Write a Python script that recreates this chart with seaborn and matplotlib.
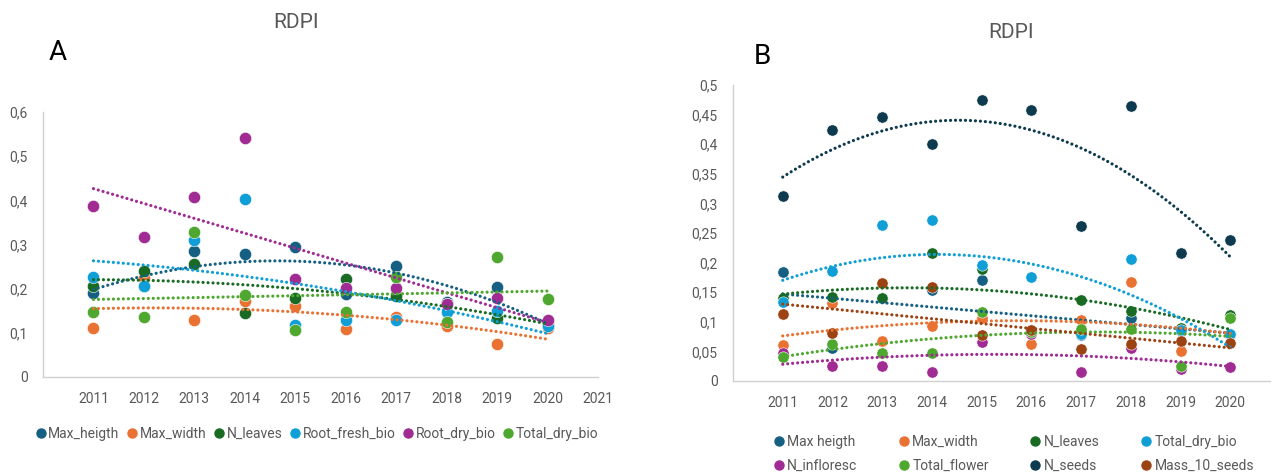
import numpy as np
import pandas as pd
import seaborn as sns
import matplotlib
matplotlib.use("Agg")
import matplotlib.pyplot as plt
from matplotlib.lines import Line2D
from matplotlib.ticker import FuncFormatter

# ---------------------------------------------------------------- data
years = [2011, 2012, 2013, 2014, 2015, 2016, 2017, 2018, 2019, 2020]

# Panel A
a_series = ["Max_heigth", "Max_width", "N_leaves", "Root_fresh_bio", "Root_dry_bio", "Total_dry_bio"]
a_max_heigth = [0.190, 0.205, 0.286, 0.278, 0.295, 0.188, 0.252, 0.169, 0.203, 0.120]
a_max_width = [0.110, 0.225, 0.130, 0.171, 0.160, 0.108, 0.136, 0.116, 0.074, 0.112]
a_n_leaves = [0.207, 0.239, 0.256, 0.144, 0.180, 0.222, 0.184, 0.165, 0.133, 0.118]
a_root_fresh_bio = [0.227, 0.205, 0.311, 0.404, 0.118, 0.130, 0.129, 0.148, 0.150, 0.115]
a_root_dry_bio = [0.388, 0.316, 0.408, 0.541, 0.222, 0.201, 0.202, 0.165, 0.178, 0.128]
a_total_dry_bio = [0.148, 0.135, 0.329, 0.186, 0.106, 0.148, 0.227, 0.125, 0.271, 0.176]
a_trend_order = [2, 2, 2, 2, 1, 1]

# Panel B
b_series = ["Max heigth", "Max_width", "N_leaves", "Total_dry_bio",
            "N_infloresc", "Total_flower", "N_seeds", "Mass_10_seeds"]
b_max_heigth = [0.184, 0.056, 0.140, 0.154, 0.171, 0.085, 0.077, 0.107, 0.085, 0.080]
b_max_width = [0.060, 0.132, 0.068, 0.093, 0.107, 0.062, 0.103, 0.168, 0.051, 0.078]
b_n_leaves = [0.141, 0.142, 0.141, 0.216, 0.189, 0.086, 0.137, 0.118, 0.089, 0.111]
b_total_dry_bio = [0.134, 0.185, 0.264, 0.272, 0.196, 0.176, 0.080, 0.206, 0.086, 0.079]
b_n_infloresc = [0.047, 0.025, 0.025, 0.015, 0.066, 0.080, 0.016, 0.056, 0.020, 0.024]
b_total_flower = [0.041, 0.062, 0.048, 0.048, 0.117, 0.082, 0.088, 0.088, 0.026, 0.107]
b_n_seeds = [0.313, 0.424, 0.446, 0.401, 0.474, 0.457, 0.262, 0.464, 0.217, 0.238]
b_mass_10_seeds = [0.113, 0.081, 0.166, 0.158, 0.077, 0.086, 0.054, 0.062, 0.068, 0.064]
b_trend_order = [1, 2, 2, 2, 2, 2, 2, 1]

a_ticks_y = [0, 0.1, 0.2, 0.3, 0.4, 0.5, 0.6]
a_ticks_x = [2011, 2012, 2013, 2014, 2015, 2016, 2017, 2018, 2019, 2020, 2021]
b_ticks_y = [0, 0.05, 0.1, 0.15, 0.2, 0.25, 0.3, 0.35, 0.4, 0.45, 0.5]
b_ticks_x = years

# ---------------------------------------------------------------- style
sns.set_theme(style="white")
plt.rcParams["font.family"] = ["Roboto", "DejaVu Sans"]

TEXT_GREY = "#595959"
AXIS_GREY = "#d0d0d0"

a_colors = dict(zip(a_series, ["#156082", "#E97132", "#196B24", "#0F9ED5", "#A02B93", "#4EA72E"]))
b_colors = dict(zip(b_series, ["#156082", "#E97132", "#196B24", "#0F9ED5",
                               "#A02B93", "#4EA72E", "#0D3A4E", "#9C4314"]))


def long_frame(names, columns):
    rows = []
    for name, vals in zip(names, columns):
        for yr, v in zip(years, vals):
            rows.append({"year": yr, "value": v, "series": name})
    return pd.DataFrame(rows)


df_a = long_frame(a_series, [a_max_heigth, a_max_width, a_n_leaves,
                             a_root_fresh_bio, a_root_dry_bio, a_total_dry_bio])
df_b = long_frame(b_series, [b_max_heigth, b_max_width, b_n_leaves, b_total_dry_bio,
                             b_n_infloresc, b_total_flower, b_n_seeds, b_mass_10_seeds])


def comma_fmt(v, _pos):
    return f"{round(v, 2):g}".replace(".", ",")


def draw_panel(ax, df, names, colors, orders, size):
    for name in names:
        sub = df[df["series"] == name]
        sns.scatterplot(data=sub, x="year", y="value", color=colors[name], s=size,
                        edgecolor="white", linewidth=0.4, legend=False, ax=ax, zorder=2)
    # dotted polynomial / linear trend lines fitted to each series
    for name, order in zip(names, orders):
        sub = df[df["series"] == name]
        sns.regplot(data=sub, x="year", y="value", order=order, ci=None, scatter=False,
                    truncate=True, color=colors[name], ax=ax,
                    line_kws=dict(linestyle=(0, (0.01, 1.55)), lw=2.3,
                                  dash_capstyle="round", zorder=3))
    ax.set_xlabel("")
    ax.set_ylabel("")
    for side in ("top", "right"):
        ax.spines[side].set_visible(False)
    for side in ("left", "bottom"):
        ax.spines[side].set_color(AXIS_GREY)
        ax.spines[side].set_linewidth(1.0)
    ax.tick_params(axis="both", length=0, colors=TEXT_GREY, labelsize=10)
    ax.tick_params(axis="y", pad=11)
    ax.tick_params(axis="x", pad=11)
    ax.yaxis.set_major_formatter(FuncFormatter(comma_fmt))
    ax.grid(False)


W, H = 1278, 475
fig = plt.figure(figsize=(W / 100, H / 100), dpi=100)
fig.patch.set_facecolor("white")


def px_axes(left, top, right, bottom):
    return fig.add_axes([left / W, 1 - bottom / H, (right - left) / W, (bottom - top) / H])


# ---------------------------------------------------------------- panel A
ax_a = px_axes(43, 112, 598, 377)
draw_panel(ax_a, df_a, a_series, a_colors, a_trend_order, 78)
ax_a.set_xlim(2010, 2021)
ax_a.set_ylim(0, 0.6)
ax_a.set_xticks(a_ticks_x)
ax_a.set_yticks(a_ticks_y)

# ---------------------------------------------------------------- panel B
ax_b = px_axes(733, 85, 1270, 381)
draw_panel(ax_b, df_b, b_series, b_colors, b_trend_order, 66)
ax_b.set_xlim(2010, 2020.8)
ax_b.set_ylim(0, 0.5)
ax_b.set_xticks(b_ticks_x)
ax_b.set_yticks(b_ticks_y)

# ---------------------------------------------------------------- titles
fig.text(296 / W, 1 - 23 / H, "RDPI", ha="center", va="center", fontsize=15, color=TEXT_GREY)
fig.text(1011 / W, 1 - 33 / H, "RDPI", ha="center", va="center", fontsize=15, color=TEXT_GREY)
fig.text(58 / W, 1 - 53 / H, "A", ha="center", va="center", fontsize=20, color="black")
fig.text(762 / W, 1 - 56 / H, "B", ha="center", va="center", fontsize=20, color="black")


# ---------------------------------------------------------------- legends
def dot(color):
    return Line2D([], [], marker="o", linestyle="none", markersize=6.5,
                  markerfacecolor=color, markeredgecolor=color)


fig.legend([dot(a_colors[n]) for n in a_series], a_series, ncol=6, loc="center",
           bbox_to_anchor=(317 / W, 1 - 434 / H), frameon=False, fontsize=10,
           handlelength=0.7, handletextpad=0.2, columnspacing=0.55, labelcolor=TEXT_GREY)

# fill the two legend rows left to right
b_leg_order = [0, 4, 1, 5, 2, 6, 3, 7]
fig.legend([dot(b_colors[b_series[i]]) for i in b_leg_order],
           [b_series[i] for i in b_leg_order], ncol=4, loc="center",
           bbox_to_anchor=(1014 / W, 1 - 454 / H), frameon=False, fontsize=10,
           handlelength=0.7, handletextpad=0.25, columnspacing=3.0, labelspacing=0.75,
           labelcolor=TEXT_GREY)

fig.savefig("out.png", dpi=100, facecolor="white")
